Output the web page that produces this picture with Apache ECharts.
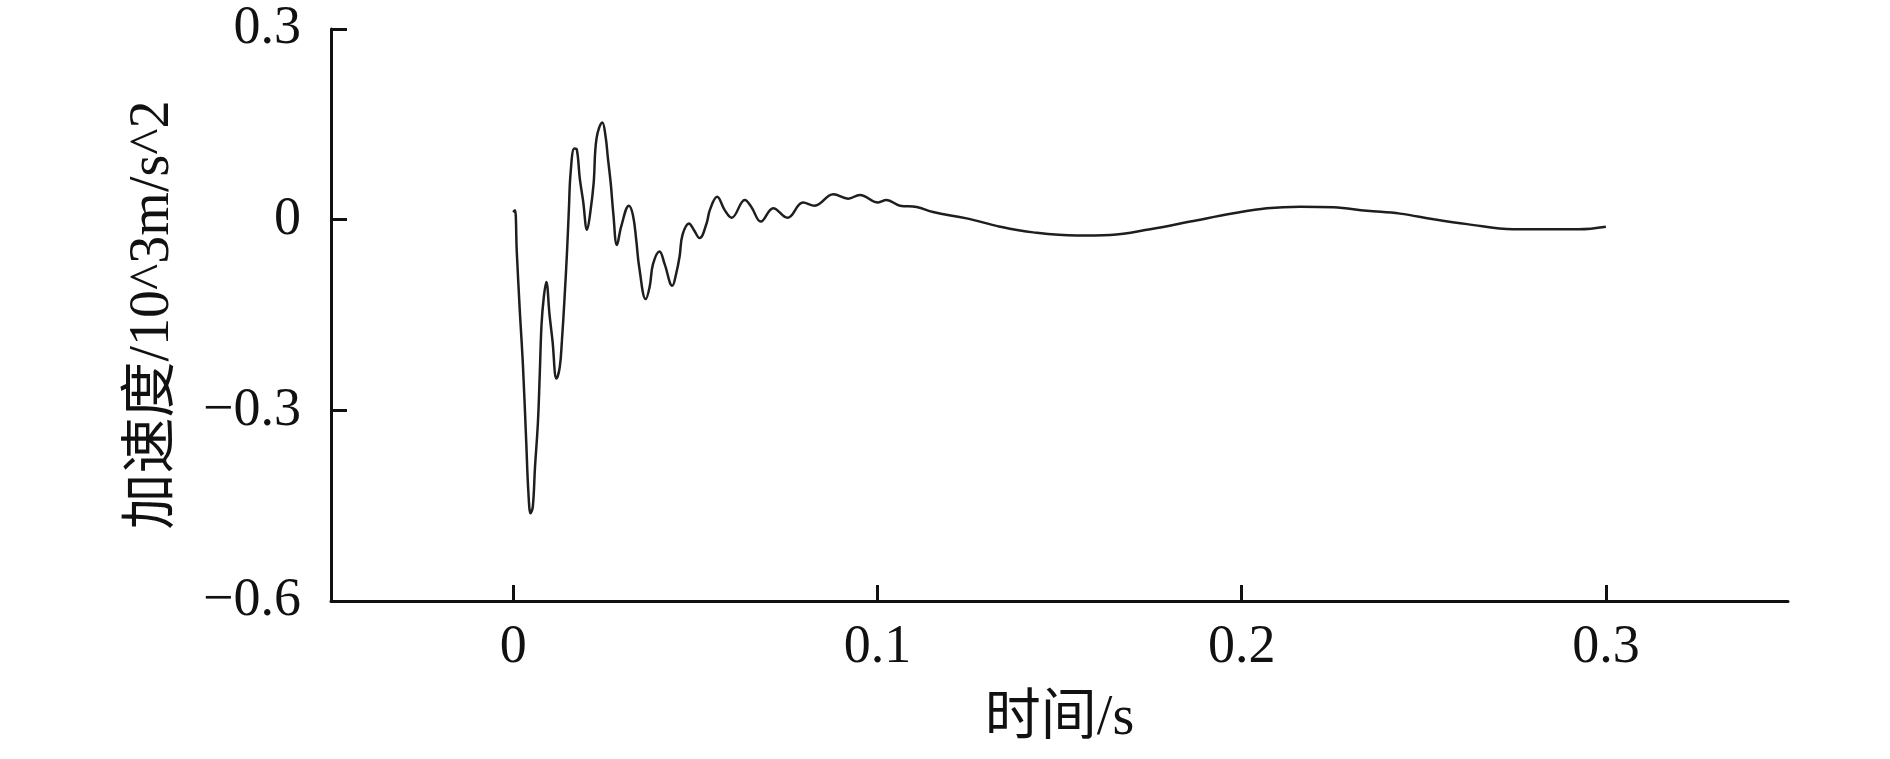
<!DOCTYPE html>
<html>
<head>
<meta charset="utf-8">
<script src="https://cdn.jsdelivr.net/npm/echarts@6/dist/echarts.min.js"></script>
<style>
  html, body { margin: 0; padding: 0; background: #fff; }
  #chart { width: 1890px; height: 759px; }
</style>
</head>
<body>
<div id="chart"></div>
<script>
// 时间 (s)
var timeData = [
  0, 0.0005, 0.001, 0.0018, 0.0027, 0.0036, 0.0042, 0.0048, 0.0054, 0.006,
  0.0068, 0.0073, 0.0078, 0.0084, 0.0091, 0.0100, 0.0108, 0.0119, 0.0128, 0.0134,
  0.0141, 0.0148, 0.0153, 0.0158, 0.0168, 0.0175, 0.0183, 0.0192, 0.0203, 0.0212,
  0.0221, 0.0229, 0.0245, 0.0254, 0.026, 0.0268, 0.0275, 0.0285, 0.0297, 0.0318,
  0.0329, 0.0338, 0.0346, 0.0364, 0.0375, 0.0384, 0.0402, 0.0416, 0.0437, 0.0448,
  0.0457, 0.0465, 0.0483, 0.0495, 0.0512, 0.0531, 0.054, 0.056, 0.0581, 0.06,
  0.0636, 0.0654, 0.068, 0.0714, 0.0753, 0.0796, 0.0828, 0.0879, 0.092, 0.0952,
  0.1002, 0.1025, 0.1062, 0.1108, 0.1153, 0.1245, 0.1337, 0.1428, 0.1547, 0.1639,
  0.1749, 0.1859, 0.1978, 0.2069, 0.2161, 0.2252, 0.2344, 0.2435, 0.2527, 0.2619,
  0.2746, 0.2925, 0.3
]
// 加速度 (10^3 m/s^2)
var accData = [
  0.012, 0.015, -0.05, -0.14, -0.23, -0.35, -0.43, -0.462, -0.452, -0.39,
  -0.32, -0.245, -0.165, -0.123, -0.098, -0.15, -0.19, -0.25, -0.232, -0.19,
  -0.125, -0.05, 0.015, 0.075, 0.112, 0.11, 0.065, 0.03, -0.016, 0.012,
  0.057, 0.128, 0.153, 0.13, 0.098, 0.057, 0.01, -0.04, -0.01, 0.022,
  0.007, -0.032, -0.074, -0.125, -0.105, -0.07, -0.05, -0.07, -0.104, -0.084,
  -0.058, -0.024, -0.006, -0.015, -0.029, -0.006, 0.015, 0.036, 0.015, 0.003,
  0.031, 0.02, -0.003, 0.018, 0.003, 0.027, 0.022, 0.04, 0.033, 0.039,
  0.027, 0.031, 0.022, 0.02, 0.012, 0.002, -0.011, -0.02, -0.025, -0.024,
  -0.015, -0.003, 0.01, 0.018, 0.0205, 0.0195, 0.014, 0.0095, 0.0006, -0.007,
  -0.015, -0.015, -0.011
]
var xTicks = [0, 0.1, 0.2, 0.3]

var fontFam = "'Liberation Serif', 'Noto Sans CJK SC', serif"
var chart = echarts.init(document.getElementById('chart'))

var points = []
for (var i = 0; i < timeData.length; i++) {
  points.push([timeData[i], accData[i]])
}

var option = {
  animation: false,
  backgroundColor: '#fff',
  grid: {
    left: 331,
    right: 102,
    top: 29,
    bottom: 158,
    containLabel: false,
    outerBoundsMode: 'none'
  },
  xAxis: {
    type: 'value',
    min: -0.05,
    max: 0.35,
    name: '时间/s',
    nameLocation: 'middle',
    nameGap: 90,
    nameTextStyle: { fontFamily: fontFam, fontSize: 56, color: '#111' },
    axisLine: { onZero: false, lineStyle: { color: '#111', width: 3 } },
    axisTick: {
      inside: true, length: 16, customValues: xTicks,
      lineStyle: { color: '#111', width: 3 }
    },
    axisLabel: {
      customValues: xTicks,
      fontFamily: fontFam, fontSize: 54, color: '#111', margin: 20,
      formatter: function (v) { return String(v) }
    },
    splitLine: { show: false }
  },
  yAxis: {
    type: 'value',
    min: -0.6,
    max: 0.3,
    interval: 0.3,
    name: '加速度/10^3m/s^2',
    nameLocation: 'middle',
    nameGap: 150,
    nameTextStyle: { fontFamily: fontFam, fontSize: 56, color: '#111' },
    axisLine: { show: true, onZero: false, lineStyle: { color: '#111', width: 3 } },
    axisTick: {
      show: true, inside: true, length: 16,
      lineStyle: { color: '#111', width: 3 }
    },
    axisLabel: {
      fontFamily: fontFam, fontSize: 54, color: '#111', margin: 30,
      formatter: function (v) {
        var s = String(Math.round(v * 10) / 10)
        return s.replace('-', '\u2212')
      }
    },
    splitLine: { show: false }
  },
  series: [
    {
      type: 'line',
      data: points,
      showSymbol: false,
      smooth: 0.4,
      lineStyle: { color: '#1e1e1e', width: 2.5 }
    }
  ]
}

chart.setOption(option)
</script>
</body>
</html>
